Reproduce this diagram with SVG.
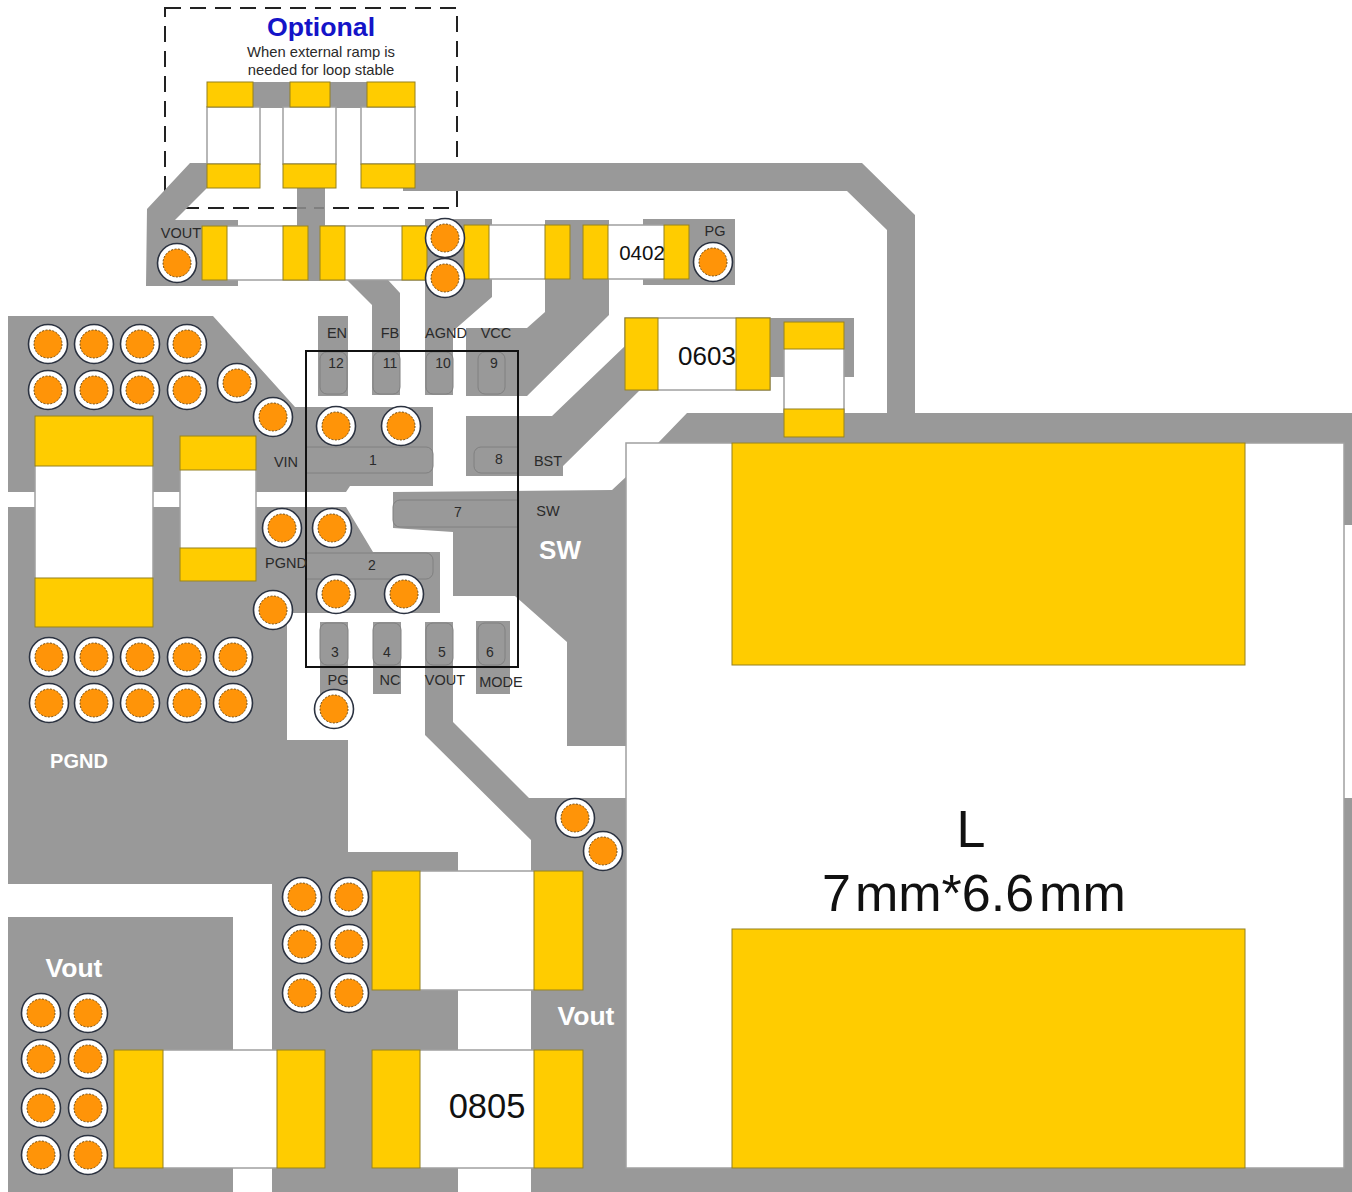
<svg xmlns="http://www.w3.org/2000/svg" width="1352" height="1192" viewBox="0 0 1352 1192">
<style>
text{font-family:"Liberation Sans",Arial,sans-serif;fill:#2a2a2a;text-anchor:middle}
.cu{fill:#999999;stroke:none}
.pad{fill:#ffcc00;stroke:#94801f;stroke-width:1}
.body{fill:#ffffff;stroke:#a0a0a0;stroke-width:1.5}
.pin{fill:none;stroke:#808080;stroke-width:1}
.s{font-size:14.5px}
.n{font-size:14px}
.w{fill:#ffffff;font-weight:bold}
.big{fill:#111111}
</style>
<defs>
<g id="via">
<circle r="19.5" fill="#ffffff" stroke="#2b3240" stroke-width="1.6"/>
<circle r="14" fill="#ff9408" stroke="#6e4a10" stroke-width="1" stroke-dasharray="2 1.5"/>
</g>
</defs>
<rect width="1352" height="1192" fill="#ffffff"/>
<rect id="optional-box" x="165" y="8" width="292" height="200" fill="none" stroke="#222222" stroke-width="2" stroke-dasharray="16 9"/>
<g id="copper">
<polygon class="cu" points="190,163 207,163 207,188 175,220 238,220 238,286 146,286 147,209"/>
<polygon class="cu" points="403,163 862,163 915,215 915,413 1352,413 1352,525 1344,525 1344,443 658,443 687,413 887,413 887,230 847,191 403,191"/>
<rect class="cu" x="253" y="82" width="37" height="26"/>
<rect class="cu" x="330" y="82" width="37" height="26"/>
<rect class="cu" x="297" y="188" width="28" height="38"/>
<rect class="cu" x="308" y="225" width="12" height="56"/>
<polygon class="cu" points="425,219 492,219 492,297 453,331 453,395 425,395"/>
<polygon class="cu" points="466,328 527,328 545,312 545,220 609,220 609,315 527,396 466,396"/>
<rect class="cu" x="643" y="219" width="92" height="66"/>
<polygon class="cu" points="466,416 552,416 625,346 640,390 563,466 563,476 466,476"/>
<rect class="cu" x="770" y="318" width="84" height="59"/>
<polygon class="cu" points="347,280 388,280 400,293 400,395 372,395 372,305"/>
<rect class="cu" x="318" y="316" width="30" height="80"/>
<polygon class="cu" points="8,316 213,316 295,407 433,407 433,486 350,486 346,492 8,492"/>
<polygon class="cu" points="8,507 346,507 373,552 440,552 440,613 287,613 287,740 348,740 348,852 458,852 458,1192 272,1192 272,884 8,884"/>
<polygon class="cu" points="393,492 612,490 627,476 627,746 567,746 567,642 515,596 453,596 453,532 393,528"/>
<rect class="cu" x="320" y="622" width="28" height="80"/>
<rect class="cu" x="373" y="622" width="28" height="72"/>
<rect class="cu" x="476" y="621" width="34" height="73"/>
<polygon class="cu" points="425,622 453,622 453,722 529,798 1352,798 1352,1192 531,1192 531,840 425,735"/>
<rect class="cu" x="8" y="917" width="225" height="275"/>
<line x1="296" y1="208" x2="330" y2="208" stroke="#777777" stroke-width="1.5" stroke-dasharray="10 8"/>
</g>
<g id="pins">
<rect class="pin" x="320" y="352" width="27" height="42" rx="7"/>
<rect class="pin" x="373" y="352" width="27" height="42" rx="7"/>
<rect class="pin" x="426" y="352" width="27" height="42" rx="7"/>
<rect class="pin" x="478" y="352" width="27" height="42" rx="7"/>
<path class="pin" d="M306,447H426a7,7 0 0 1 7,7V466a7,7 0 0 1 -7,7H306"/>
<path class="pin" d="M518,447H481a7,7 0 0 0 -7,7V466a7,7 0 0 0 7,7H518"/>
<path class="pin" d="M518,500H400a7,7 0 0 0 -7,7V520a7,7 0 0 0 7,7H518"/>
<path class="pin" d="M306,553H426a7,7 0 0 1 7,7V572a7,7 0 0 1 -7,7H306"/>
<rect class="pin" x="320" y="623" width="28" height="42" rx="7"/>
<rect class="pin" x="373" y="623" width="28" height="42" rx="7"/>
<rect class="pin" x="426" y="623" width="27" height="42" rx="7"/>
<rect class="pin" x="478" y="623" width="27" height="42" rx="7"/>
</g>
<g id="inductor">
<rect class="body" x="626" y="443" width="718" height="725" stroke="#888888"/>
<rect class="pad" x="732" y="443" width="513" height="222"/>
<rect class="pad" x="732" y="929" width="513" height="239"/>
</g>
<g id="optional-parts">
<rect class="body" x="207" y="107" width="53" height="57"/>
<rect class="body" x="283" y="107" width="53" height="57"/>
<rect class="body" x="361" y="107" width="54" height="57"/>
<rect class="pad" x="207" y="82" width="46" height="25"/>
<rect class="pad" x="290" y="82" width="40" height="25"/>
<rect class="pad" x="367" y="82" width="48" height="25"/>
<rect class="pad" x="207" y="164" width="53" height="24"/>
<rect class="pad" x="283" y="164" width="53" height="24"/>
<rect class="pad" x="361" y="164" width="54" height="24"/>
</g>
<g id="r-row">
<rect class="body" x="202" y="226" width="106" height="54"/>
<rect class="pad" x="202" y="226" width="25" height="54"/>
<rect class="pad" x="283" y="226" width="25" height="54"/>
<rect class="body" x="320" y="226" width="107" height="54"/>
<rect class="pad" x="320" y="226" width="25" height="54"/>
<rect class="pad" x="402" y="226" width="25" height="54"/>
<rect class="body" x="464" y="225" width="106" height="54"/>
<rect class="pad" x="464" y="225" width="25" height="54"/>
<rect class="pad" x="545" y="225" width="25" height="54"/>
<rect class="body" x="583" y="225" width="106" height="54"/>
<rect class="pad" x="583" y="225" width="25" height="54"/>
<rect class="pad" x="664" y="225" width="25" height="54"/>
</g>
<g id="c0603">
<rect class="body" x="625" y="318" width="145" height="72"/>
<rect class="pad" x="625" y="318" width="33" height="72"/>
<rect class="pad" x="736" y="318" width="34" height="72"/>
</g>
<g id="c-bst">
<rect class="body" x="784" y="322" width="60" height="115"/>
<rect class="pad" x="784" y="322" width="60" height="27"/>
<rect class="pad" x="784" y="409" width="60" height="28"/>
</g>
<g id="c-in-large">
<rect class="body" x="35" y="416" width="118" height="211"/>
<rect class="pad" x="35" y="416" width="118" height="50"/>
<rect class="pad" x="35" y="578" width="118" height="49"/>
</g>
<g id="c-in-small">
<rect class="body" x="180" y="436" width="76" height="145"/>
<rect class="pad" x="180" y="436" width="76" height="34"/>
<rect class="pad" x="180" y="548" width="76" height="33"/>
</g>
<g id="c-out-a">
<rect class="body" x="372" y="871" width="211" height="119"/>
<rect class="pad" x="372" y="871" width="48" height="119"/>
<rect class="pad" x="534" y="871" width="49" height="119"/>
</g>
<g id="c-out-b">
<rect class="body" x="372" y="1050" width="211" height="118"/>
<rect class="pad" x="372" y="1050" width="48" height="118"/>
<rect class="pad" x="534" y="1050" width="49" height="118"/>
</g>
<g id="c-out-c">
<rect class="body" x="114" y="1050" width="211" height="118"/>
<rect class="pad" x="114" y="1050" width="49" height="118"/>
<rect class="pad" x="277" y="1050" width="48" height="118"/>
</g>
<g id="vias">
<use href="#via" x="177" y="263"/><use href="#via" x="445" y="238"/><use href="#via" x="445" y="278"/><use href="#via" x="713" y="262"/>
<use href="#via" x="48" y="344"/><use href="#via" x="94" y="344"/><use href="#via" x="140" y="344"/><use href="#via" x="187" y="344"/>
<use href="#via" x="48" y="390"/><use href="#via" x="94" y="390"/><use href="#via" x="140" y="390"/><use href="#via" x="187" y="390"/>
<use href="#via" x="237" y="383"/><use href="#via" x="273" y="417"/>
<use href="#via" x="336" y="426"/><use href="#via" x="401" y="426"/>
<use href="#via" x="282" y="528"/><use href="#via" x="332" y="528"/>
<use href="#via" x="336" y="594"/><use href="#via" x="404" y="594"/><use href="#via" x="273" y="610"/>
<use href="#via" x="334" y="709"/>
<use href="#via" x="49" y="657"/><use href="#via" x="94" y="657"/><use href="#via" x="140" y="657"/><use href="#via" x="187" y="657"/><use href="#via" x="233" y="657"/>
<use href="#via" x="49" y="703"/><use href="#via" x="94" y="703"/><use href="#via" x="140" y="703"/><use href="#via" x="187" y="703"/><use href="#via" x="233" y="703"/>
<use href="#via" x="575" y="818"/><use href="#via" x="603" y="851"/>
<use href="#via" x="302" y="897"/><use href="#via" x="349" y="897"/><use href="#via" x="302" y="944"/><use href="#via" x="349" y="944"/><use href="#via" x="302" y="993"/><use href="#via" x="349" y="993"/>
<use href="#via" x="41" y="1013"/><use href="#via" x="88" y="1013"/><use href="#via" x="41" y="1059"/><use href="#via" x="88" y="1059"/><use href="#via" x="41" y="1108"/><use href="#via" x="88" y="1108"/><use href="#via" x="41" y="1155"/><use href="#via" x="88" y="1155"/>
</g>
<rect id="ic-outline" x="306" y="351" width="212" height="316" fill="none" stroke="#111111" stroke-width="2"/>
<g id="labels">
<text x="321" y="36" font-size="26.7" font-weight="bold" style="fill:#1414c8">Optional</text>
<text x="321" y="57" font-size="14.8">When external ramp is</text>
<text x="321" y="75" font-size="14.8">needed for loop stable</text>
<text class="s" x="181" y="238">VOUT</text>
<text class="s" x="715" y="236">PG</text>
<text x="642" y="260" font-size="20.5" class="big">0402</text>
<text x="707" y="365" font-size="26" class="big">0603</text>
<text class="s" x="337" y="338">EN</text>
<text class="s" x="390" y="338">FB</text>
<text class="s" x="446" y="338">AGND</text>
<text class="s" x="496" y="338">VCC</text>
<text class="n" x="336" y="368">12</text>
<text class="n" x="390" y="368">11</text>
<text class="n" x="443" y="368">10</text>
<text class="n" x="494" y="368">9</text>
<text class="s" x="286" y="467">VIN</text>
<text class="n" x="373" y="465">1</text>
<text class="n" x="499" y="464">8</text>
<text class="s" x="548" y="466">BST</text>
<text class="n" x="458" y="517">7</text>
<text class="s" x="548" y="516">SW</text>
<text class="s" x="286" y="568">PGND</text>
<text class="n" x="372" y="570">2</text>
<text class="n" x="335" y="657">3</text>
<text class="n" x="387" y="657">4</text>
<text class="n" x="442" y="657">5</text>
<text class="n" x="490" y="657">6</text>
<text class="s" x="338" y="685">PG</text>
<text class="s" x="390" y="685">NC</text>
<text class="s" x="445" y="685">VOUT</text>
<text class="s" x="501" y="687">MODE</text>
<text class="w" x="560" y="559" font-size="26">SW</text>
<text class="w" x="79" y="768" font-size="20">PGND</text>
<text class="w" x="74" y="977" font-size="26.5">Vout</text>
<text class="w" x="586" y="1025" font-size="26.5">Vout</text>
<text class="big" x="487" y="1118" font-size="34.5">0805</text>
<text class="big" x="971" y="847" font-size="52">L</text>
<text class="big" x="822" y="911" font-size="52" style="text-anchor:start">7<tspan dx="4">mm*6.6</tspan><tspan dx="5">mm</tspan></text>
</g>
</svg>
